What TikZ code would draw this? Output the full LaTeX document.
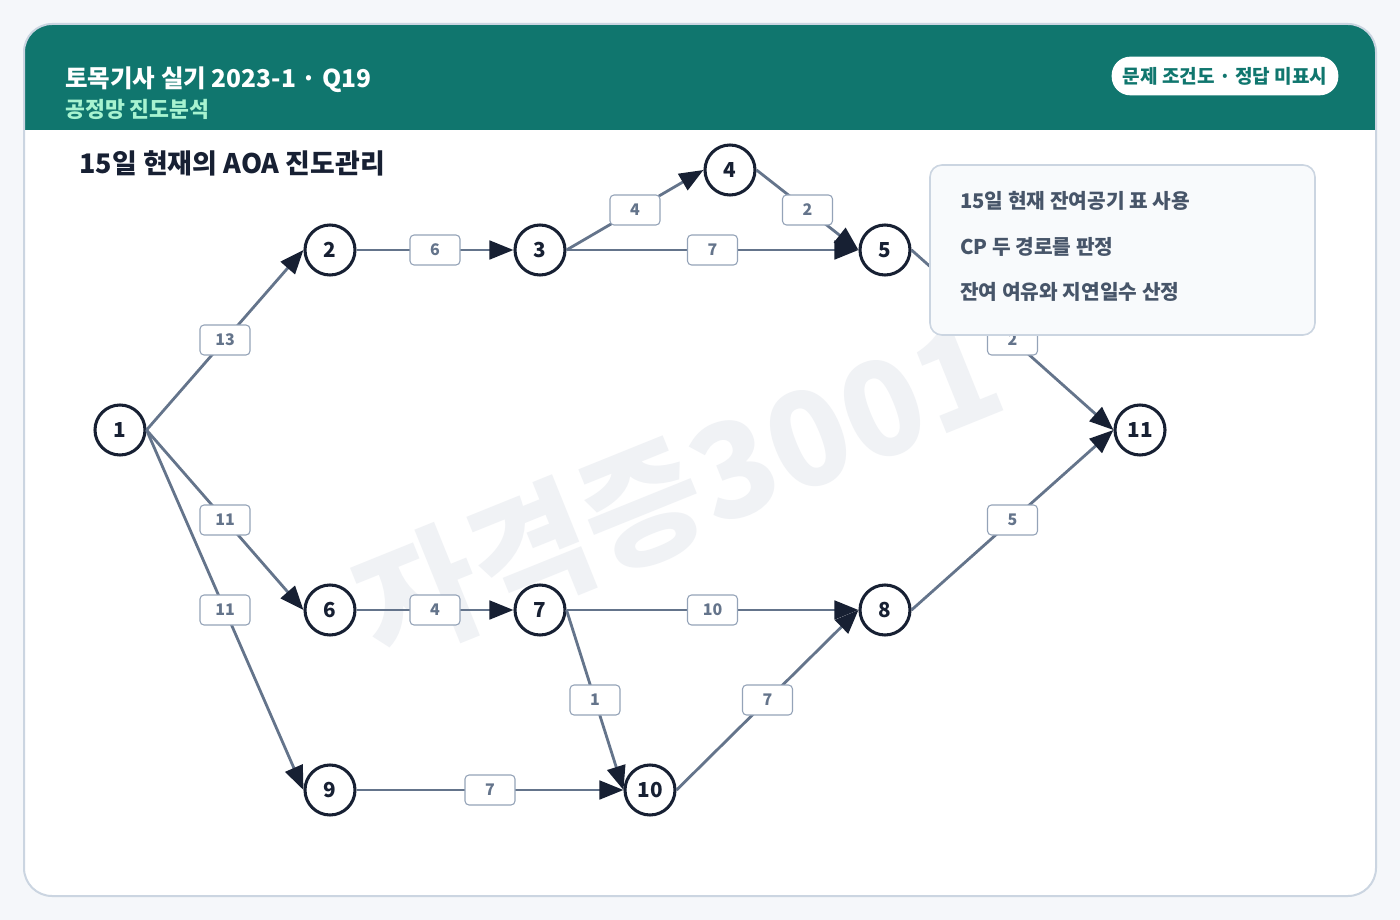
\documentclass[tikz,border=0pt]{standalone}
\usepackage{fontspec}
\setmainfont{Noto Sans CJK KR}
\usetikzlibrary{arrows.meta}

\definecolor{pagebg}{HTML}{F5F7FA}
\definecolor{cardline}{HTML}{CBD5E1}
\definecolor{headteal}{HTML}{10766E}
\definecolor{mint}{HTML}{A7F3D0}
\definecolor{navy}{HTML}{172033}
\definecolor{slate}{HTML}{64748B}
\definecolor{durline}{HTML}{94A3B8}
\definecolor{notetext}{HTML}{475569}
\definecolor{notefill}{HTML}{F8FAFC}
\definecolor{wmark}{HTML}{F0F2F5}

\tikzset{
    event/.style={draw=navy, line width=2.3pt, circle, fill=white, text=navy,
        minimum size=37.5pt, inner sep=0pt, font=\fontsize{15.5}{15.5}\selectfont\bfseries},
    act/.style={draw=slate, line width=2.1pt, -{Triangle[length=18pt,width=14pt,color=navy]}},
    dur/.style={draw=durline, line width=0.8pt, fill=white, rounded corners=3pt, text=slate,
        minimum width=37.5pt, minimum height=22.5pt, inner sep=0pt, font=\fontsize{12}{12}\selectfont\bfseries},
    noteline/.style={anchor=base west, text=notetext, inner sep=0pt, font=\fontsize{15.2}{15.2}\selectfont\bfseries}
}

\begin{document}
\begin{tikzpicture}[x=0.75pt, y=-0.75pt]
    \useasboundingbox (0,0) rectangle (1400,920);
    \fill[pagebg] (0,0) rectangle (1400,920);

    % card and header
    \fill[white, rounded corners=21pt] (24,24) rectangle (1376,896);
    \begin{scope}
        \clip[rounded corners=21pt] (24,24) rectangle (1376,896);
        \fill[headteal] (24,24) rectangle (1376,130);
    \end{scope}
    \draw[cardline, line width=1.5pt, rounded corners=21pt] (24,24) rectangle (1376,896);

    \node[anchor=base west, inner sep=0pt, text=white, font=\fontsize{18.4}{18.4}\selectfont\bfseries] (title) at (65,88) {토목기사 실기 2023-1 · Q19};
    \node[anchor=base west, inner sep=0pt, text=mint, font=\fontsize{16.2}{16.2}\selectfont\bfseries] (subtitle) at (65,118) {공정망 진도분석};
    \node[fill=white, rounded corners=14pt, text=headteal, minimum width=170pt, minimum height=29pt, inner sep=0pt,
        font=\fontsize{14.3}{14.3}\selectfont\bfseries] (badge) at (1225,76) {문제 조건도 · 정답 미표시};

    \node[anchor=base west, inner sep=0pt, text=navy, font=\fontsize{20.2}{20.2}\selectfont\bfseries] (heading) at (79,174) {15일 현재의 AOA 진도관리};

    % watermark
    \node[rotate=22, text=wmark, font=\fontsize{98}{98}\selectfont\bfseries] (mark) at (678,490) {자격증3001};

    % events
    \node[event] (n1) at (120,430) {1};
    \node[event] (n2) at (330,250) {2};
    \node[event] (n3) at (540,250) {3};
    \node[event] (n4) at (730,170) {4};
    \node[event] (n5) at (885,250) {5};
    \node[event] (n6) at (330,610) {6};
    \node[event] (n7) at (540,610) {7};
    \node[event] (n8) at (885,610) {8};
    \node[event] (n9) at (330,790) {9};
    \node[event] (n10) at (650,790) {10};
    \node[event] (n11) at (1140,430) {11};

    % activities
    \draw[act] (n1.east) -- node[dur] {13} (n2.west);
    \draw[act] (n1.east) -- node[dur] {11} (n6.west);
    \draw[act] (n1.east) -- node[dur] {11} (n9.west);
    \draw[act] (n2.east) -- node[dur] {6} (n3.west);
    \draw[act] (n3.east) -- node[dur] {4} (n4.west);
    \draw[act] (n3.east) -- node[dur] {7} (n5.west);
    \draw[act] (n4.east) -- node[dur] {2} (n5.west);
    \draw[act] (n5.east) -- node[dur] {2} (n11.west);
    \draw[act] (n6.east) -- node[dur] {4} (n7.west);
    \draw[act] (n7.east) -- node[dur] {10} (n8.west);
    \draw[act] (n7.east) -- node[dur] {1} (n10.west);
    \draw[act] (n9.east) -- node[dur] {7} (n10.west);
    \draw[act] (n10.east) -- node[dur] {7} (n8.west);
    \draw[act] (n8.east) -- node[dur] {5} (n11.west);

    % notes
    \node[draw=cardline, line width=1.2pt, fill=notefill, rounded corners=9pt,
        minimum width=288.75pt, minimum height=127.5pt, inner sep=0pt] (notes) at (1122.5,250) {};
    \node[noteline] (note1) at (960,209) {15일 현재 잔여공기 표 사용};
    \node[noteline] (note2) at (960,254) {CP 두 경로를 판정};
    \node[noteline] (note3) at (960,299) {잔여 여유와 지연일수 산정};
\end{tikzpicture}
\end{document}
